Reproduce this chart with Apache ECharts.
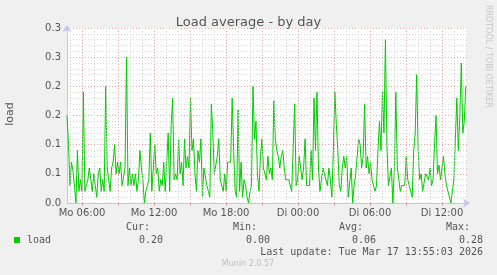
<!DOCTYPE html>
<html><head><meta charset="utf-8">
<script src="https://cdn.jsdelivr.net/npm/echarts@6/dist/echarts.min.js"></script>
<style>html,body{margin:0;padding:0;background:#f0f0f0;} #c{width:497px;height:275px;}</style>
</head><body><div id="c"></div>
<script>
// time axis in hours from Monday 00:00
const startHour = 4.75;      // Mo 04:45 (left edge of plot)
const stepHours = 0.124;     // sample spacing
const spanHours = 400 / 12;  // 33h20m shown

// load readings, in order, split by stretches of the day
const loadPart1 = [0.15,0.10,0.03,0.07,0.055,0.03,0.0,0.09,0.02,0.04,0.02,0.19,0.02,0.02,0.04,0.06,0.04,0.02,0.05,0.03,0.01,0.05,0.06,0.02,0.04,0.02,0.20,0.06,0.04,0.02,0.06,0.07,0.10,0.05,0.07,0.05,0.07,0.03];
const loadPart2 = [0.03,0.06,0.25,0.03,0.06,0.03,0.05,0.03,0.05,0.02,0.04,0.09,0.06,0.04,0.0,0.02,0.03,0.04,0.12,0.02,0.06,0.10,0.05,0.06,0.02,0.04,0.03,0.07,0.02,0.07,0.12,0.02,0.135,0.18,0.04,0.05,0.04,0.11,0.05];
const loadPart3 = [0.07,0.03,0.11,0.06,0.08,0.06,0.18,0.09,0.11,0.05,0.02,0.09,0.07,0.11,0.01,0.06,0.06,0.03,0.02,0.01,0.17,0.12,0.05,0.05,0.08,0.11,0.04,0.04,0.02,0.05,0.02,0.07,0.07,0.07,0.18,0.09,0.02,0.01,0.16];
const loadPart4 = [0.02,0.07,0.01,0.04,0.03,0.01,0.0,0.02,0.03,0.20,0.11,0.14,0.05,0.02,0.08,0.11,0.06,0.06,0.04,0.08,0.05,0.06,0.04,0.175,0.11,0.09,0.08,0.06,0.08,0.09,0.06,0.04,0.04,0.04,0.04,0.02,0.02,0.17,0.03];
const loadPart5 = [0.04,0.08,0.06,0.04,0.06,0.11,0.03,0.03,0.03,0.09,0.04,0.18,0.09,0.19,0.06,0.02,0.04,0.06,0.05,0.05,0.03,0.06,0.04,0.01,0.09,0.19,0.135,0.09,0.03,0.02,0.06,0.08,0.06,0.08,0.01,0.01,0.06,0.0,0.03];
const loadPart6 = [0.05,0.08,0.11,0.10,0.06,0.08,0.17,0.06,0.08,0.05,0.07,0.04,0.04,0.02,0.03,0.09,0.14,0.09,0.19,0.12,0.28,0.10,0.03,0.03,0.06,0.0,0.06,0.19,0.06,0.04,0.02,0.03,0.03,0.03,0.08,0.04,0.03,0.02,0.01];
const loadPart7 = [0.09,0.12,0.22,0.09,0.04,0.05,0.02,0.02,0.05,0.05,0.04,0.06,0.03,0.04,0.10,0.15,0.05,0.065,0.04,0.04,0.08,0.05,0.03,0.03,0.01,0.0,0.02,0.04,0.11,0.18,0.09,0.15,0.24,0.12,0.14,0.20];

const xTickHours = [6, 12, 18, 24, 30, 36];
const xTickLabels = ['Mo 06:00', 'Mo 12:00', 'Mo 18:00', 'Di 00:00', 'Di 06:00', 'Di 12:00'];
const yTickLabels = ['0.0', '0.1', '0.1', '0.2', '0.2', '0.3', '0.3'];
const legendHeads = ['Cur:', 'Min:', 'Avg:', 'Max:'];
const legendValues = ['0.20', '0.00', '0.06', '0.28'];
const lastUpdate = 'Last update: Tue Mar 17 13:55:03 2026';

const load = [].concat(loadPart1, loadPart2, loadPart3, loadPart4, loadPart5, loadPart6, loadPart7);
const seriesData = load.map((v, i) => [startHour + i * stepHours, v]);
const xMin = startHour, xMax = startHour + spanHours;

const gridHours = [];
for (let h = Math.ceil(xMin); h <= xMax; h++) gridHours.push(h);

const MAJOR = '#e8a4a4', MINOR = '#d6d6d6', AXIS = '#c4c4f4';
const headRight = [150, 257, 363, 470];
const valRight = [163, 270, 376, 483];

const chart = echarts.init(document.getElementById('c'), null, {renderer: 'canvas'});
const graphics = [
  {type: 'text', x: 488, y: 5, rotation: -Math.PI / 2, style: {text: 'RRDTOOL / TOBI OETIKER', fill: '#c6c6c6', font: '8px "DejaVu Sans"', align: 'left', verticalAlign: 'middle'}},
  {type: 'text', x: 10, y: 114, rotation: Math.PI / 2, style: {text: 'load', fill: '#555', font: '11px "DejaVu Sans"', align: 'center', verticalAlign: 'middle'}},
  {type: 'rect', shape: {x: 14, y: 237, width: 6, height: 6}, style: {fill: '#00cc00'}},
  {type: 'text', x: 27, y: 240, style: {text: 'load', fill: '#555', font: '10px "DejaVu Sans Mono"', align: 'left', verticalAlign: 'middle'}},
  {type: 'text', x: 483, y: 252, style: {text: lastUpdate, fill: '#555', font: '10px "DejaVu Sans Mono"', align: 'right', verticalAlign: 'middle'}},
  {type: 'text', x: 248, y: 264, style: {text: 'Munin 2.0.57', fill: '#c0c0c0', font: '8px "DejaVu Sans"', align: 'center', verticalAlign: 'middle'}}
];
legendHeads.forEach((t, i) => graphics.push({type: 'text', x: headRight[i], y: 227, style: {text: t, fill: '#555', font: '10px "DejaVu Sans Mono"', align: 'right', verticalAlign: 'middle'}}));
legendValues.forEach((t, i) => graphics.push({type: 'text', x: valRight[i], y: 240, style: {text: t, fill: '#555', font: '10px "DejaVu Sans Mono"', align: 'right', verticalAlign: 'middle'}}));

chart.setOption({
  backgroundColor: '#f0f0f0',
  animation: false,
  title: {text: 'Load average - by day', left: 'center', top: 11, textStyle: {fontFamily: 'DejaVu Sans', fontSize: 13, fontWeight: 'normal', color: '#555'}},
  grid: {left: 67, right: 30, top: 28, bottom: 72, show: true, backgroundColor: '#ffffff', borderWidth: 0},
  xAxis: {
    type: 'value', min: xMin, max: xMax,
    axisLine: {show: true, lineStyle: {color: AXIS, width: 1}, symbol: ['none', 'arrow'], symbolSize: [7, 7], symbolOffset: [0, 3]},
    axisTick: {show: true, customValues: xTickHours.concat([9, 15, 21, 27, 33]), length: 3, lineStyle: {color: MAJOR}},
    axisLabel: {customValues: xTickHours, margin: 5, color: '#555', fontFamily: 'DejaVu Sans', fontSize: 10,
      formatter: v => xTickLabels[xTickHours.indexOf(Math.round(v))] || ''},
    splitLine: {show: false}
  },
  yAxis: {
    type: 'value', min: 0, max: 0.3, interval: 0.05,
    axisLine: {show: true, lineStyle: {color: AXIS, width: 1}, symbol: ['none', 'arrow'], symbolSize: [7, 7], symbolOffset: [0, 3]},
    axisTick: {show: false},
    axisLabel: {margin: 6, color: '#555', fontFamily: 'DejaVu Sans', fontSize: 10,
      formatter: v => yTickLabels[Math.round(v / 0.05)]},
    splitLine: {show: true, lineStyle: {color: MAJOR, type: [1, 2], width: 1}},
    minorTick: {show: false, splitNumber: 5},
    minorSplitLine: {show: true, lineStyle: {color: MINOR, type: [1, 2], width: 1}}
  },
  series: [
    {type: 'line', data: [], z: 1, silent: true,
     markLine: {silent: true, symbol: ['none', 'none'], label: {show: false}, animation: false,
       data: gridHours.map(h => ({xAxis: h, lineStyle: {color: h % 3 === 0 ? MAJOR : MINOR, type: [1, 2], width: 1}}))}},
    {type: 'line', data: seriesData, z: 3, showSymbol: false, symbol: 'none', sampling: null,
     lineStyle: {color: '#00cc00', width: 1}, itemStyle: {color: '#00cc00'}}
  ],
  graphic: graphics
});
</script></body></html>
